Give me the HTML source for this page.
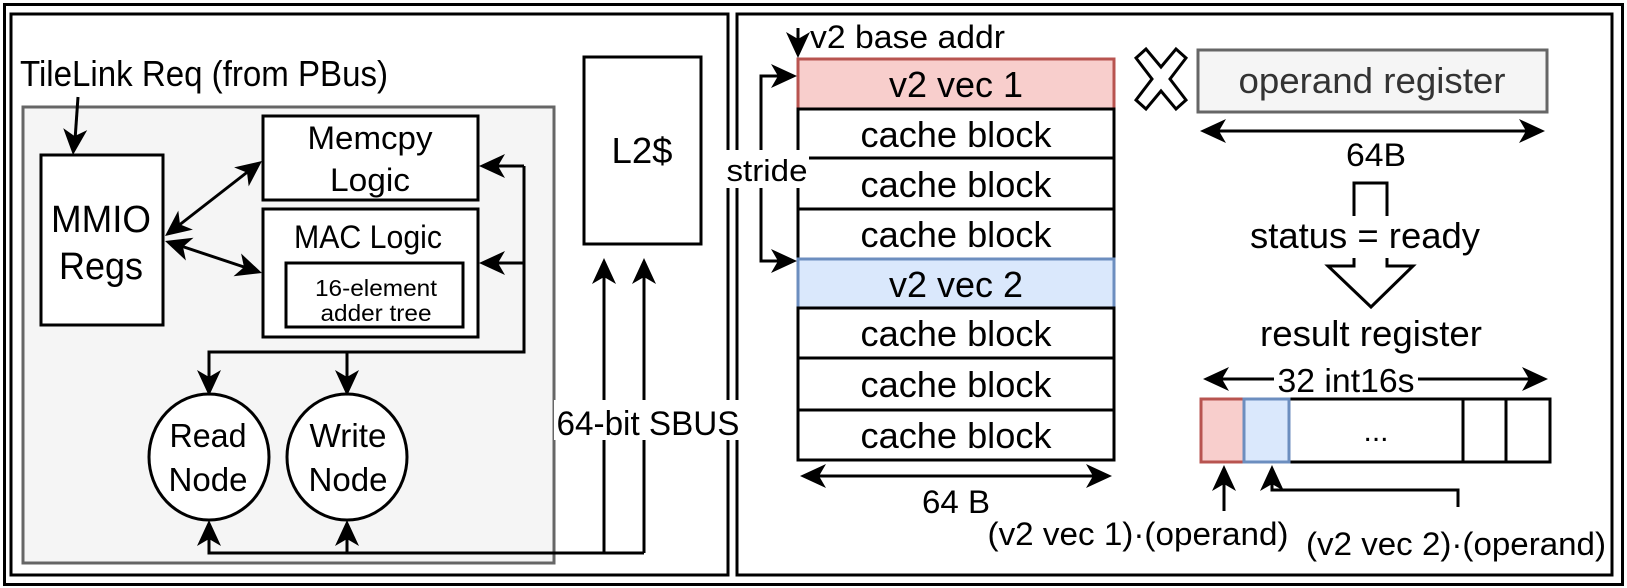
<!DOCTYPE html>
<html><head><meta charset="utf-8"><style>html,body{margin:0;padding:0;background:#fff}svg{display:block}text{font-family:"Liberation Sans",sans-serif}</style></head><body>
<svg width="1627" height="588" viewBox="0 0 1627 588" xmlns="http://www.w3.org/2000/svg">
<g fill="none" stroke="#000" stroke-width="3">
<rect x="4.5" y="4.5" width="1618" height="580"/>
<rect x="11" y="14" width="717" height="561"/>
<rect x="737" y="14" width="875" height="561"/>
</g>
<text x="20" y="86" font-size="36" textLength="368" lengthAdjust="spacingAndGlyphs">TileLink Req (from PBus)</text>
<rect x="23" y="107" width="531" height="456" fill="#f5f5f5" stroke="#666" stroke-width="3"/>
<g stroke="#000" stroke-width="3" fill="#fff">
<rect x="41" y="155" width="122" height="170"/>
<rect x="263" y="116" width="215" height="84"/>
<rect x="263" y="209" width="215" height="128"/>
<rect x="286" y="263" width="177" height="64"/>
<ellipse cx="209" cy="457" rx="60" ry="63"/>
<ellipse cx="347" cy="457" rx="60" ry="63"/>
<rect x="584" y="57" width="117" height="187"/>
</g>
<g stroke="#000" stroke-width="3" fill="none">
<line x1="78" y1="97" x2="75" y2="140"/>
<line x1="178" y1="226" x2="250" y2="170"/>
<line x1="178" y1="245" x2="250" y2="269"/>
<polyline points="524,166 524,352 209,352 209,380"/>
<line x1="524" y1="166" x2="495" y2="166"/>
<line x1="524" y1="263" x2="495" y2="263"/>
<line x1="347" y1="352" x2="347" y2="380"/>
<polyline points="644,553 209,553 209,535"/>
<line x1="347" y1="553" x2="347" y2="535"/>
<line x1="604" y1="553" x2="604" y2="272"/>
<line x1="644" y1="553" x2="644" y2="272"/>
</g>
<g fill="#000" stroke="none">
<polygon points="73,155 87.2,130.1 74.6,136.1 63.2,128.1"/>
<polygon points="262,161 248.7,186.4 247,172.6 234.1,167.4"/>
<polygon points="165,236 192.9,229.6 180,224.4 178.3,210.6"/>
<polygon points="262,273 233.5,276.3 244,267.1 241.1,253.5"/>
<polygon points="165,241 185.9,260.5 183,246.9 193.5,237.7"/>
<polygon points="209,396 197,370 209,377 221,370"/>
<polygon points="347,396 335,370 347,377 359,370"/>
<polygon points="479,166 505,154 498,166 505,178"/>
<polygon points="479,263 505,251 498,263 505,275"/>
<polygon points="209,520 197,546 209,539 221,546"/>
<polygon points="347,520 335,546 347,539 359,546"/>
<polygon points="604,258 592,284 604,277 616,284"/>
<polygon points="644,258 632,284 644,277 656,284"/>
</g>
<g text-anchor="middle">
<text x="101" y="232" font-size="38" textLength="100" lengthAdjust="spacingAndGlyphs">MMIO</text>
<text x="101" y="279" font-size="38" textLength="84" lengthAdjust="spacingAndGlyphs">Regs</text>
<text x="370" y="149" font-size="32" textLength="125" lengthAdjust="spacingAndGlyphs">Memcpy</text>
<text x="370" y="191" font-size="32" textLength="80" lengthAdjust="spacingAndGlyphs">Logic</text>
<text x="368" y="248" font-size="32" textLength="148" lengthAdjust="spacingAndGlyphs">MAC Logic</text>
<text x="376" y="296" font-size="23" textLength="122" lengthAdjust="spacingAndGlyphs">16-element</text>
<text x="376" y="321" font-size="23" textLength="111" lengthAdjust="spacingAndGlyphs">adder tree</text>
<text x="208" y="447" font-size="33" textLength="77" lengthAdjust="spacingAndGlyphs">Read</text>
<text x="208" y="491" font-size="33" textLength="79" lengthAdjust="spacingAndGlyphs">Node</text>
<text x="348" y="447" font-size="33" textLength="77" lengthAdjust="spacingAndGlyphs">Write</text>
<text x="348" y="491" font-size="33" textLength="79" lengthAdjust="spacingAndGlyphs">Node</text>
<text x="642" y="163" font-size="36" textLength="61" lengthAdjust="spacingAndGlyphs">L2$</text>
<rect x="554" y="400" width="190" height="40" fill="#fff"/>
<text x="648" y="435" font-size="34" textLength="183" lengthAdjust="spacingAndGlyphs">64-bit SBUS</text>
</g>
<text x="810" y="48" font-size="32" textLength="195" lengthAdjust="spacingAndGlyphs">v2 base addr</text>
<g stroke="#000" stroke-width="3">
<rect x="798" y="59" width="316" height="50" fill="#f8cecc" stroke="#b85450"/>
<rect x="798" y="109" width="316" height="49" fill="#fff"/>
<rect x="798" y="158" width="316" height="51" fill="#fff"/>
<rect x="798" y="209" width="316" height="50" fill="#fff"/>
<rect x="798" y="259" width="316" height="49" fill="#dae8fc" stroke="#6c8ebf"/>
<rect x="798" y="308" width="316" height="50" fill="#fff"/>
<rect x="798" y="358" width="316" height="52" fill="#fff"/>
<rect x="798" y="410" width="316" height="50" fill="#fff"/>
<rect x="1198" y="50" width="349" height="62" fill="#f5f5f5" stroke="#666"/>
<rect x="1201" y="399" width="349" height="63" fill="#fff"/>
<rect x="1201" y="399" width="43" height="63" fill="#f8cecc" stroke="#b85450"/>
<rect x="1244" y="399" width="45" height="63" fill="#dae8fc" stroke="#6c8ebf"/>
<line x1="1463" y1="399" x2="1463" y2="462"/>
<line x1="1506" y1="399" x2="1506" y2="462"/>
</g>
<g stroke="#000" stroke-width="3" fill="none">
<line x1="798" y1="28" x2="798" y2="42"/>
<polyline points="780,76 761,76 761,261 780,261"/>
<line x1="815" y1="476" x2="1097" y2="476"/>
<line x1="1215" y1="131" x2="1530" y2="131"/>
<line x1="1218" y1="379" x2="1533" y2="379"/>
<line x1="1224" y1="511" x2="1224" y2="482"/>
<polyline points="1458,507 1458,490 1272,490 1272,482"/>
<path d="M1354,216 V183 H1387 V216 M1354,258 V266 H1328 L1371,307 L1413,266 H1387 V258" stroke-width="3" stroke-linejoin="miter"/>
<path d="M1136,58 L1146,49 L1161,67 L1176,49 L1186,58 L1170,79 L1186,100 L1176,109 L1161,91 L1146,109 L1136,100 L1152,79 Z" fill="#fff" stroke-width="3"/>
</g>
<g fill="#000" stroke="none">
<polygon points="798,58 786,32 798,39 810,32"/>
<polygon points="797,76 771,64 778,76 771,88"/>
<polygon points="797,261 771,249 778,261 771,273"/>
<polygon points="800,476 826,464 819,476 826,488"/>
<polygon points="1112,476 1086,464 1093,476 1086,488"/>
<polygon points="1200,131 1226,119 1219,131 1226,143"/>
<polygon points="1545,131 1519,119 1526,131 1519,143"/>
<polygon points="1203,379 1229,367 1222,379 1229,391"/>
<polygon points="1548,379 1522,367 1529,379 1522,391"/>
<polygon points="1224,465 1212,491 1224,484 1236,491"/>
<polygon points="1272,465 1260,491 1272,484 1284,491"/>
</g>
<rect x="725" y="150" width="84" height="38" fill="#fff"/>
<g text-anchor="middle">
<text x="767" y="181" font-size="31" textLength="81" lengthAdjust="spacingAndGlyphs">stride</text>
<text x="956" y="97" font-size="36" textLength="134" lengthAdjust="spacingAndGlyphs">v2 vec 1</text>
<text x="956" y="147" font-size="36" textLength="191" lengthAdjust="spacingAndGlyphs">cache block</text>
<text x="956" y="197" font-size="36" textLength="191" lengthAdjust="spacingAndGlyphs">cache block</text>
<text x="956" y="247" font-size="36" textLength="191" lengthAdjust="spacingAndGlyphs">cache block</text>
<text x="956" y="297" font-size="36" textLength="134" lengthAdjust="spacingAndGlyphs">v2 vec 2</text>
<text x="956" y="346" font-size="36" textLength="191" lengthAdjust="spacingAndGlyphs">cache block</text>
<text x="956" y="397" font-size="36" textLength="191" lengthAdjust="spacingAndGlyphs">cache block</text>
<text x="956" y="448" font-size="36" textLength="191" lengthAdjust="spacingAndGlyphs">cache block</text>
<text x="956" y="513" font-size="32" textLength="68" lengthAdjust="spacingAndGlyphs">64 B</text>
<text x="1372" y="93" font-size="36" fill="#333" textLength="267" lengthAdjust="spacingAndGlyphs">operand register</text>
<text x="1376" y="166" font-size="32" textLength="60" lengthAdjust="spacingAndGlyphs">64B</text>
<text x="1365" y="248" font-size="36" textLength="230" lengthAdjust="spacingAndGlyphs">status = ready</text>
<text x="1371" y="346" font-size="36" textLength="222" lengthAdjust="spacingAndGlyphs">result register</text>
<rect x="1274" y="362" width="144" height="34" fill="#fff"/>
<text x="1346" y="392" font-size="33" textLength="137" lengthAdjust="spacingAndGlyphs">32 int16s</text>
<text x="1376" y="441" font-size="30">...</text>
<text x="1138" y="545" font-size="32" textLength="301" lengthAdjust="spacingAndGlyphs">(v2 vec 1)·(operand)</text>
<text x="1456" y="555" font-size="32" textLength="300" lengthAdjust="spacingAndGlyphs">(v2 vec 2)·(operand)</text>
</g>
</svg>
</body></html>
